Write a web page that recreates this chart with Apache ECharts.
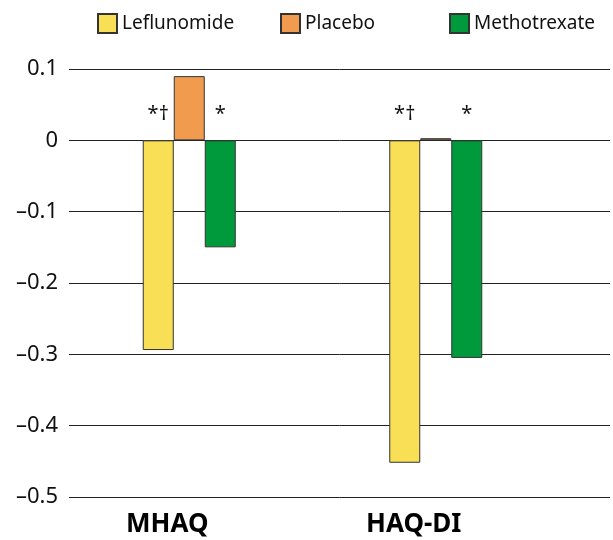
<!DOCTYPE html>
<html><head><meta charset="utf-8">
<script src="https://cdn.jsdelivr.net/npm/echarts@6/dist/echarts.min.js"></script>
<style>html,body{margin:0;padding:0;background:#fff}#c{width:613px;height:540px}</style>
</head><body><div id="c"></div>
<script>
const categories = ['MHAQ', 'HAQ-DI'];
const seriesNames = ['Leflunomide', 'Placebo', 'Methotrexate'];
const leflunomide = [-0.294, -0.452];
const placebo = [0.09, 0.003];
const methotrexate = [-0.15, -0.305];
const leflunomideMarks = ['*†', '*†'];
const methotrexateMarks = ['*', '*'];
const yMin = -0.5, yMax = 0.1, yStep = 0.1;

const colors = ['#F8DF55', '#F19B4F', '#009A3D'];
const legendLefts = [97, 280, 449];
const fontFam = '"Noto Sans", sans-serif';

function fmt(v) {
  const r = Math.round(v * 10) / 10;
  if (r === 0) return '0';
  return (r < 0 ? '\u2013' : '') + Math.abs(r).toFixed(1);
}

function barSeries(name, data, color, marks) {
  const s = {
    name: name, type: 'bar', xAxisIndex: 1, yAxisIndex: 1,
    barWidth: 31, barGap: '0%',
    itemStyle: { color: color, borderColor: '#333', borderWidth: 1 },
    data: data.map((v, i) => {
      const d = { value: v };
      if (marks) {
        d.label = { show: true, formatter: marks[i] };
      }
      return d;
    })
  };
  if (marks) {
    s.label = { position: 'top', distance: 16, fontSize: 20, color: '#111', fontFamily: fontFam };
  }
  return s;
}

const chart = echarts.init(document.getElementById('c'));
chart.setOption({
  animation: false,
  textStyle: { fontFamily: fontFam },
  legend: seriesNames.map((n, i) => ({
    data: [n], left: legendLefts[i], top: 13, padding: 0, icon: 'rect',
    itemWidth: 19, itemHeight: 19, itemGap: 0,
    textStyle: { fontSize: 19, color: '#111', fontFamily: fontFam }
  })),
  grid: [
    { left: 69, right: 3, top: 69, bottom: 43 },
    { left: 66, right: 54, top: 69, bottom: 43 }
  ],
  xAxis: [
    { gridIndex: 0, type: 'value', show: false },
    { gridIndex: 1, type: 'category', data: categories,
      axisLine: { show: false }, axisTick: { show: false },
      axisLabel: { fontSize: 26, fontWeight: 'bold', color: '#000', margin: 15, padding: [0, 44, 0, 0], fontFamily: fontFam } }
  ],
  yAxis: [
    { gridIndex: 0, type: 'value', min: yMin, max: yMax, interval: yStep,
      axisLine: { show: false }, axisTick: { show: false },
      splitLine: { lineStyle: { color: '#222', width: 1 } },
      axisLabel: { fontSize: 22, color: '#111', margin: 11, formatter: fmt, fontFamily: fontFam } },
    { gridIndex: 1, type: 'value', min: yMin, max: yMax, interval: yStep, show: false }
  ],
  series: [
    barSeries(seriesNames[0], leflunomide, colors[0], leflunomideMarks),
    barSeries(seriesNames[1], placebo, colors[1], null),
    barSeries(seriesNames[2], methotrexate, colors[2], methotrexateMarks)
  ]
});
</script></body></html>
